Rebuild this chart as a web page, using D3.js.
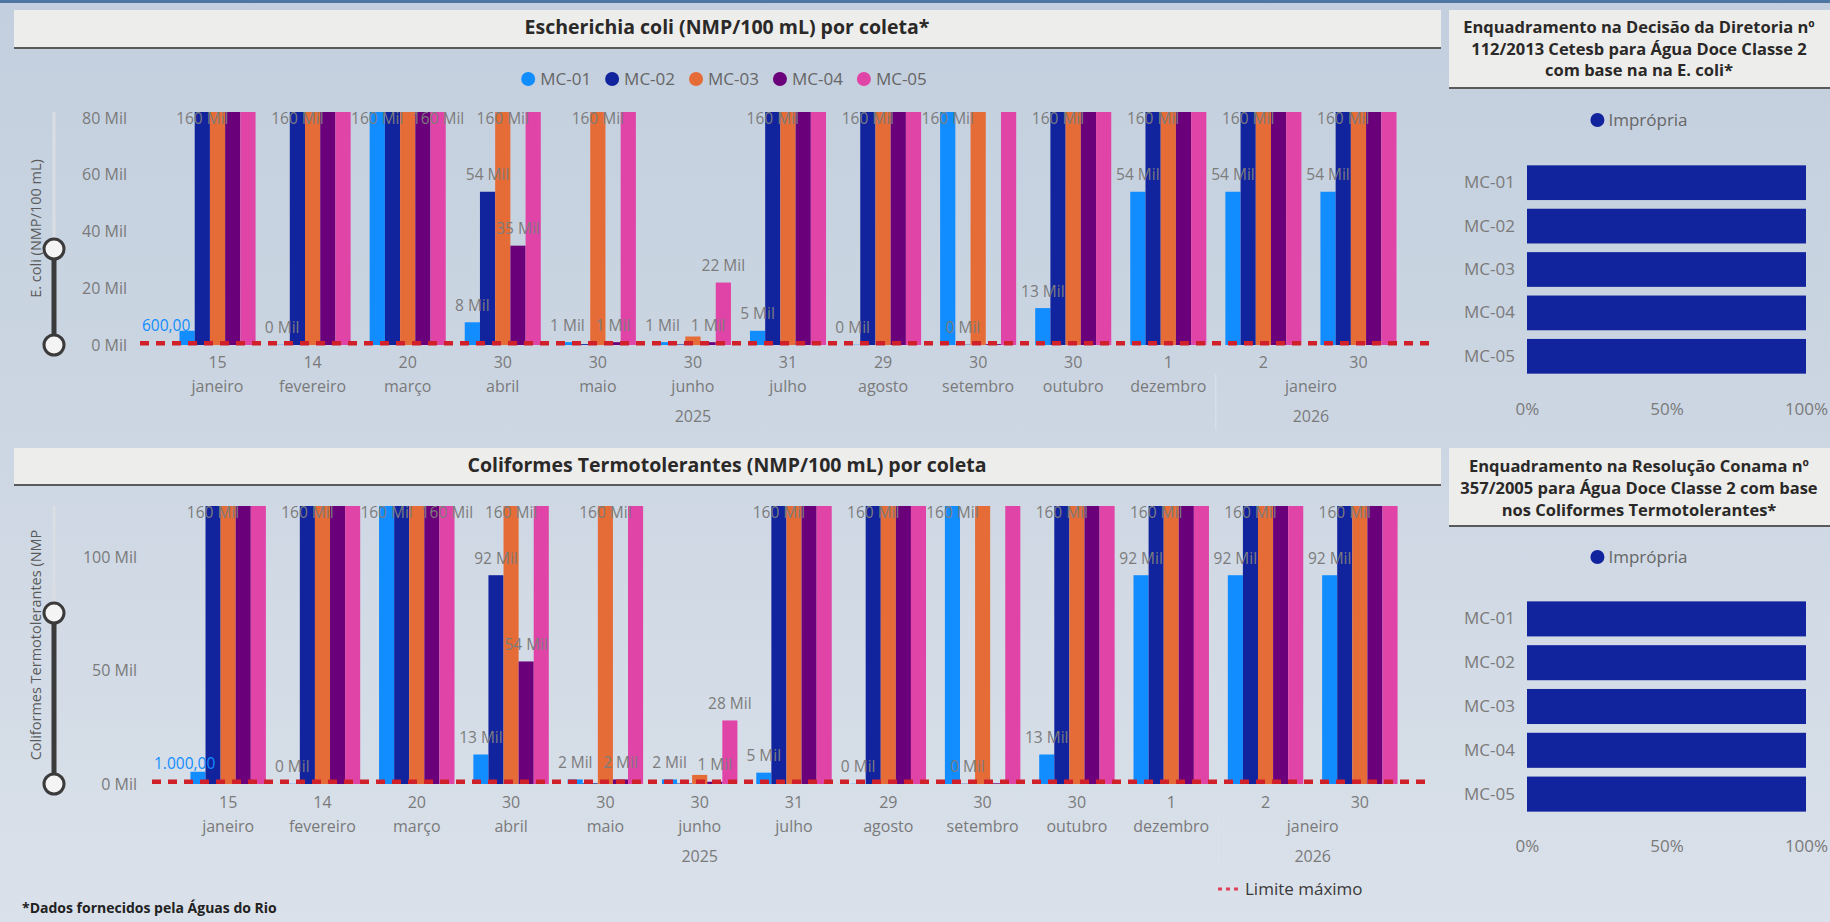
<!DOCTYPE html>
<html>
<head>
<meta charset="utf-8">
<script src="https://cdn.jsdelivr.net/npm/d3@7"></script>
<style>
  html, body { margin: 0; padding: 0; width: 1830px; height: 922px; overflow: hidden; }
  svg { display: block; }
</style>
</head>
<body>
<svg id="page" width="1830" height="922"></svg>
<script>
// ---------- data ----------
const dates = ["2025-01-15","2025-02-14","2025-03-20","2025-04-30","2025-05-30","2025-06-30",
               "2025-07-31","2025-08-29","2025-09-30","2025-10-30","2025-12-01","2026-01-02","2026-01-30"];
const stations = ["MC-01","MC-02","MC-03","MC-04","MC-05"];
const stationColors = ["#118DFF","#12239E","#E66C37","#6B007B","#E044A7"];

// Escherichia coli (NMP/100 mL), one value per collection date
const ecoliMC01 = [5000, 100, 160000, 8000, 1000, 1000, 5000, 100, 160000, 13000, 54000, 54000, 54000];
const ecoliMC02 = [160000, 160000, 160000, 54000, 300, 200, 160000, 160000, 100, 160000, 160000, 160000, 160000];
const ecoliMC03 = [160000, 160000, 160000, 160000, 160000, 3000, 160000, 160000, 160000, 160000, 160000, 160000, 160000];
const ecoliMC04 = [160000, 160000, 160000, 35000, 1000, 1000, 160000, 160000, 300, 160000, 160000, 160000, 160000];
const ecoliMC05 = [160000, 160000, 160000, 160000, 160000, 22000, 160000, 160000, 160000, 160000, 160000, 160000, 160000];

// Coliformes termotolerantes (NMP/100 mL)
const ctMC01 = [5400, 100, 160000, 13000, 2000, 2000, 5000, 100, 160000, 13000, 92000, 92000, 92000];
const ctMC02 = [160000, 160000, 160000, 92000, 300, 200, 160000, 160000, 100, 160000, 160000, 160000, 160000];
const ctMC03 = [160000, 160000, 160000, 160000, 160000, 4000, 160000, 160000, 160000, 160000, 160000, 160000, 160000];
const ctMC04 = [160000, 160000, 160000, 54000, 2000, 1000, 160000, 160000, 300, 160000, 160000, 160000, 160000];
const ctMC05 = [160000, 160000, 160000, 160000, 160000, 28000, 160000, 160000, 160000, 160000, 160000, 160000, 160000];

// class 2 limits (NMP/100 mL)
const ecoliLimit = 600;
const ctLimit = 1000;

const ecoliTicks = [0, 20000, 40000, 60000, 80000];
const ctTicks = [0, 50000, 100000];
const pctTicks = [0, 50, 100];

// share of samples classified as "Imprópria" per station (%)
const ecoliImpropria = [100, 100, 100, 100, 100];
const ctImpropria = [100, 100, 100, 100, 100];

// ---------- formatting ----------
const FONT = "'Segoe UI', 'Open Sans', sans-serif";
const LIMIT_RED = "#D0202A";
const ptBR = d3.timeFormatLocale({
  dateTime: "%A, %e de %B de %Y. %X", date: "%d/%m/%Y", time: "%H:%M:%S", periods: ["AM","PM"],
  days: ["domingo","segunda","terça","quarta","quinta","sexta","sábado"],
  shortDays: ["dom","seg","ter","qua","qui","sex","sáb"],
  months: ["janeiro","fevereiro","março","abril","maio","junho","julho","agosto","setembro","outubro","novembro","dezembro"],
  shortMonths: ["jan","fev","mar","abr","mai","jun","jul","ago","set","out","nov","dez"]
});
const numBR = d3.formatLocale({ decimal: ",", thousands: ".", grouping: [3], currency: ["R$ ", ""] });
const parse = d3.timeParse("%Y-%m-%d");
const fmtDay = ptBR.format("%-d");
const fmtMonth = ptBR.format("%B");
const fmtYear = ptBR.format("%Y");
const fmtLimit = numBR.format(",.2f");
const fmtMil = v => d3.format(".0f")(v / 1000) + " Mil";

// ---------- page ----------
const W = 1830, H = 922;
const svg = d3.select("#page").attr("font-family", FONT);
const defs = svg.append("defs");
const bg = defs.append("linearGradient").attr("id", "bg").attr("x1", 0).attr("y1", 0).attr("x2", 0).attr("y2", 1);
bg.append("stop").attr("offset", "0%").attr("stop-color", "#C3CFDE");
bg.append("stop").attr("offset", "50%").attr("stop-color", "#CDD7E3");
bg.append("stop").attr("offset", "100%").attr("stop-color", "#DAE1EA");
svg.append("rect").attr("width", W).attr("height", H).attr("fill", "url(#bg)");
svg.append("rect").attr("width", W).attr("height", 3).attr("fill", "#4E76A2");

const measurer = svg.append("text").attr("visibility", "hidden");
function textWidth(str, size, weight) {
  measurer.attr("font-size", size).attr("font-weight", weight || 400).text(str);
  return measurer.node().getComputedTextLength();
}

function titleBox(x, y, w, h, lines, baselines, size, cx) {
  const g = svg.append("g");
  g.append("rect").attr("x", x).attr("y", y).attr("width", w).attr("height", h).attr("fill", "#EDEDEB");
  g.append("line").attr("x1", x).attr("x2", x + w).attr("y1", y + h).attr("y2", y + h)
    .attr("stroke", "#5A5A5A").attr("stroke-width", 2);
  g.selectAll("text").data(lines).join("text")
    .attr("x", cx).attr("y", (d, i) => baselines[i])
    .attr("text-anchor", "middle").attr("font-size", size).attr("font-weight", 700)
    .attr("fill", "#2A2928").text(d => d);
}

// ---------- clustered column chart ----------
function columnChart(o) {
  const g = svg.append("g");
  const y = d3.scaleLinear().domain([0, o.yMax]).range([o.baseY, o.plotTop]);
  const x0 = d3.scaleBand().domain(dates).range(o.bandRange).paddingInner(0.2).paddingOuter(0.1);
  const x1 = d3.scaleBand().domain(stations).range([0, x0.bandwidth()]);

  titleBox(14, o.titleY, 1427, o.titleH, [o.title], [o.titleBaseline], 19.5, 727);

  // y-axis zoom slider
  const sliderY = o.plotTop + (o.baseY - o.plotTop) * o.sliderFrac;
  g.append("line").attr("x1", 54).attr("x2", 54).attr("y1", o.plotTop).attr("y2", sliderY)
    .attr("stroke", "#DADDE2").attr("stroke-width", 3);
  g.append("line").attr("x1", 54).attr("x2", 54).attr("y1", sliderY).attr("y2", o.baseY)
    .attr("stroke", "#3B3B3B").attr("stroke-width", 5);
  g.selectAll("circle.handle").data([sliderY, o.baseY]).join("circle").attr("class", "handle")
    .attr("cx", 54).attr("cy", d => d).attr("r", 10)
    .attr("fill", "#F4F4F4").attr("stroke", "#3B3B3B").attr("stroke-width", 3);

  // axis title
  g.append("text")
    .attr("transform", `translate(41,${(o.plotTop + o.baseY) / 2}) rotate(-90)`)
    .attr("text-anchor", "middle").attr("font-size", 14.5).attr("fill", "#5A5A5A")
    .text(o.axisTitle);

  // y axis
  g.append("g").attr("transform", `translate(${o.tickX},0)`)
    .call(d3.axisLeft(y).tickValues(o.ticks).tickFormat(fmtMil).tickSize(0).tickPadding(0))
    .call(a => a.select(".domain").remove())
    .call(a => a.attr("font-family", null).attr("font-size", null))
    .selectAll("text").attr("font-size", 16).attr("fill", "#7A7A7A");

  // bars
  const rows = dates.map((d, i) => ({ date: d, values: stations.map((s, k) => ({ station: s, k, v: o.series[k][i] })) }));
  defs.append("clipPath").attr("id", o.id + "-clip").append("rect")
    .attr("x", 0).attr("y", o.plotTop).attr("width", W).attr("height", o.baseY - o.plotTop);
  g.append("g").attr("clip-path", `url(#${o.id}-clip)`)
    .selectAll("g").data(rows).join("g").attr("transform", d => `translate(${x0(d.date)},0)`)
    .selectAll("rect").data(d => d.values).join("rect")
    .attr("x", d => x1(d.station)).attr("width", x1.bandwidth())
    .attr("y", d => y(d.v)).attr("height", d => o.baseY - y(d.v))
    .attr("fill", d => stationColors[d.k]);

  // limit line
  const yl = y(o.limit);
  g.append("line").attr("x1", o.lineX[0]).attr("x2", o.lineX[1]).attr("y1", yl).attr("y2", yl)
    .attr("stroke", LIMIT_RED).attr("stroke-width", 4.5).attr("stroke-dasharray", "9 7");

  // data labels: placed series by series, skipping any that would collide
  const LS = 15.5;
  const placed = [];
  const limitText = fmtLimit(o.limit);
  const lw = textWidth(limitText, LS);
  placed.push({ text: limitText, x: o.lineX[0] + 2 + lw / 2, y: yl - 18, w: lw, color: "#118DFF" });
  const collides = b => placed.some(p =>
    b.x - b.w / 2 < p.x + p.w / 2 && b.x + b.w / 2 > p.x - p.w / 2 &&
    Math.abs(b.y - p.y) < 16);
  stations.forEach((s, k) => rows.forEach(r => {
    const v = r.values[k].v;
    const text = fmtMil(v);
    const above = y(v) - 17;
    const lab = { text, x: x0(r.date) + x1(s) + x1.bandwidth() / 2,
                  y: above < o.plotTop + 6 ? o.plotTop + 6 : above, w: textWidth(text, LS), color: "#7C7C7C" };
    if (!collides(lab)) placed.push(lab);
  }));
  g.append("g").selectAll("text").data(placed).join("text")
    .attr("x", d => d.x).attr("y", d => d.y + 5.5).attr("text-anchor", "middle")
    .attr("font-size", LS).attr("fill", d => d.color).text(d => d.text);

  // x axis: day / month / year
  g.append("g").attr("transform", `translate(0,${o.dayY})`)
    .call(d3.axisBottom(x0).tickFormat(d => fmtDay(parse(d))).tickSize(0))
    .call(a => a.select(".domain").remove())
    .call(a => a.attr("font-family", null).attr("font-size", null))
    .selectAll("text").attr("y", 0).attr("dy", 0).attr("font-size", 16).attr("fill", "#7A7A7A");

  const centerOf = list => (x0(list[0]) + x0(list[list.length - 1]) + x0.bandwidth()) / 2;
  const months = d3.groups(dates, d => fmtYear(parse(d)) + "|" + fmtMonth(parse(d)));
  g.append("g").selectAll("text").data(months).join("text")
    .attr("x", d => centerOf(d[1])).attr("y", o.monthY).attr("text-anchor", "middle")
    .attr("font-size", 16).attr("fill", "#7A7A7A").text(d => d[0].split("|")[1]);
  const years = d3.groups(dates, d => fmtYear(parse(d)));
  g.append("g").selectAll("text").data(years).join("text")
    .attr("x", d => centerOf(d[1])).attr("y", o.yearY).attr("text-anchor", "middle")
    .attr("font-size", 16).attr("fill", "#7A7A7A").text(d => d[0]);
  // faint separator between year blocks
  years.slice(1).forEach(yr => {
    const i = dates.indexOf(yr[1][0]);
    const xs = (x0(dates[i - 1]) + x0.bandwidth() + x0(dates[i])) / 2;
    g.append("line").attr("x1", xs).attr("x2", xs).attr("y1", o.monthY - 18).attr("y2", o.yearY + 8)
      .attr("stroke", "#DCE2EA").attr("stroke-width", 1);
  });

  // legend
  if (o.legend) {
    const widths = stations.map(s => textWidth(s, 17));
    const itemW = widths.map(w => 14 + 5 + w);
    const total = d3.sum(itemW) + 14 * (stations.length - 1);
    let cx = o.legendCX - total / 2;
    const pos = itemW.map(w => { const p = cx; cx += w + 14; return p; });
    const lg = g.append("g").selectAll("g").data(stations).join("g")
      .attr("transform", (d, i) => `translate(${pos[i]},${o.legendY})`);
    lg.append("circle").attr("cx", 7).attr("cy", 0).attr("r", 7).attr("fill", (d, i) => stationColors[i]);
    lg.append("text").attr("x", 19).attr("y", 6).attr("font-size", 17).attr("fill", "#666").text(d => d);
  }
}

// ---------- compliance bar panel ----------
function compliancePanel(o) {
  titleBox(1449, o.boxY, 381, 78, o.titleLines, o.titleBaselines, 16.5, 1639);
  const g = svg.append("g");
  const x = d3.scaleLinear().domain([0, 100]).range([1527, 1806]);
  const yb = d3.scaleBand().domain(stations).range(o.bandRange).paddingInner(0.2).paddingOuter(0.1);

  // legend
  const lw = textWidth("Imprópria", 17);
  const lx = 1639 - (14 + 4 + lw) / 2;
  g.append("circle").attr("cx", lx + 7).attr("cy", o.legendY).attr("r", 7).attr("fill", "#12239E");
  g.append("text").attr("x", lx + 18).attr("y", o.legendY + 6).attr("font-size", 17).attr("fill", "#666").text("Imprópria");

  g.append("g").selectAll("rect").data(stations).join("rect")
    .attr("x", x(0)).attr("y", d => yb(d)).attr("height", yb.bandwidth())
    .attr("width", (d, i) => x(o.values[i]) - x(0)).attr("fill", "#12239E");

  g.append("g").attr("transform", "translate(1515,0)")
    .call(d3.axisLeft(yb).tickSize(0).tickPadding(0))
    .call(a => a.select(".domain").remove())
    .call(a => a.attr("font-family", null).attr("font-size", null))
    .selectAll("text").attr("font-size", 17).attr("fill", "#7A7A7A");

  g.append("g").attr("transform", `translate(0,${o.axisBaseline})`)
    .call(d3.axisBottom(x).tickValues(pctTicks).tickFormat(d => d + "%").tickSize(0))
    .call(a => a.select(".domain").remove())
    .call(a => a.attr("font-family", null).attr("font-size", null))
    .selectAll("text").attr("y", 0).attr("dy", 0).attr("font-size", 17).attr("fill", "#7A7A7A");
}

// ---------- draw ----------
columnChart({
  id: "ecoli", title: "Escherichia coli (NMP/100 mL) por coleta*", titleY: 10, titleH: 38, titleBaseline: 34,
  series: [ecoliMC01, ecoliMC02, ecoliMC03, ecoliMC04, ecoliMC05], limit: ecoliLimit,
  ticks: ecoliTicks, yMax: 82100, plotTop: 112, baseY: 345, bandRange: [170, 1406],
  lineX: [140, 1430], tickX: 127, axisTitle: "E. coli (NMP/100 mL)", sliderFrac: 0.588,
  dayY: 368, monthY: 392, yearY: 422, legend: true, legendCX: 724, legendY: 79
});
columnChart({
  id: "ct", title: "Coliformes Termotolerantes (NMP/100 mL) por coleta", titleY: 448, titleH: 37, titleBaseline: 472,
  series: [ctMC01, ctMC02, ctMC03, ctMC04, ctMC05], limit: ctLimit,
  ticks: ctTicks, yMax: 122500, plotTop: 506, baseY: 784, bandRange: [181, 1407],
  lineX: [152, 1430], tickX: 137, axisTitle: "Coliformes Termotolerantes (NMP", sliderFrac: 0.385,
  dayY: 808, monthY: 832, yearY: 862, legend: false
});

compliancePanel({
  boxY: 10,
  titleLines: ["Enquadramento na Decisão da Diretoria nº", "112/2013 Cetesb para Água Doce Classe 2", "com base na na E. coli*"],
  titleBaselines: [33, 55, 76], legendY: 120, bandRange: [161, 378], axisBaseline: 415, values: ecoliImpropria
});
compliancePanel({
  boxY: 448,
  titleLines: ["Enquadramento na Resolução Conama nº", "357/2005 para Água Doce Classe 2 com base", "nos Coliformes Termotolerantes*"],
  titleBaselines: [472, 494, 516], legendY: 557, bandRange: [597, 816], axisBaseline: 852, values: ctImpropria
});

// limit legend
const lim = svg.append("g").attr("transform", "translate(1218,889)");
lim.append("line").attr("x1", 0).attr("x2", 21).attr("y1", 0).attr("y2", 0)
  .attr("stroke", "#E0405A").attr("stroke-width", 3).attr("stroke-dasharray", "4 4");
lim.append("text").attr("x", 27).attr("y", 6).attr("font-size", 17).attr("fill", "#3A3A3A").text("Limite máximo");

// source note
svg.append("text").attr("x", 22).attr("y", 913).attr("font-size", 14).attr("font-weight", 700)
  .attr("fill", "#222").text("*Dados fornecidos pela Águas do Rio");
</script>
</body>
</html>
